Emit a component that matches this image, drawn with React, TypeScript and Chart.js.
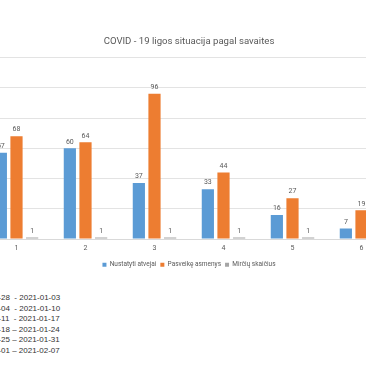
import React, { useEffect, useRef } from "react";
import { Chart, registerables } from "chart.js";

Chart.register(...registerables);

const categories = ["1", "2", "3", "4", "5", "6"];
const nustatyti = [57, 60, 37, 33, 16, 7];
const pasveike = [68, 64, 96, 44, 27, 19];
const mirtys = [1, 1, 1, 1, 1, 1];
const seriesNames = ["Nustatyti atvejai", "Pasveikę asmenys", "Mirčių skaičius"];
const titleText = "COVID - 19 ligos situacija pagal savaites";
const weekRanges = [
  "2020-12-28  - 2021-01-03",
  "2021-01-04  - 2021-01-10",
  "2021-01-11  - 2021-01-17",
  "2021-01-18 – 2021-01-24",
  "2021-01-25 – 2021-01-31",
  "2021-02-01 – 2021-02-07",
];

const FONT = "Roboto, 'Noto Sans', sans-serif";

const valueLabels = {
  id: "valueLabels",
  afterDatasetsDraw(chart: any) {
    const ctx = chart.ctx;
    ctx.save();
    ctx.font = `7px ${FONT}`;
    ctx.fillStyle = "#595959";
    ctx.textAlign = "center";
    ctx.textBaseline = "bottom";
    chart.data.datasets.forEach((ds: any, i: number) => {
      const meta = chart.getDatasetMeta(i);
      meta.data.forEach((bar: any, j: number) => {
        ctx.fillText(String(ds.data[j]), bar.x, bar.y - 3);
      });
    });
    ctx.restore();
  },
};

export default function App() {
  const ref = useRef<HTMLCanvasElement>(null);
  useEffect(() => {
    if (!ref.current) return;
    const chart = new Chart(ref.current, {
      type: "bar",
      data: {
        labels: categories,
        datasets: [
          { label: seriesNames[0], data: nustatyti, backgroundColor: "#5B9BD5" },
          { label: seriesNames[1], data: pasveike, backgroundColor: "#ED7D31" },
          { label: seriesNames[2], data: mirtys, backgroundColor: "#A5A5A5" },
        ],
      },
      options: {
        animation: false,
        responsive: false,
        maintainAspectRatio: false,
        layout: { padding: { top: 36, left: 22, right: 10, bottom: 4 } },
        datasets: { bar: { categoryPercentage: 0.68, barPercentage: 0.78 } },
        scales: {
          x: {
            grid: { display: false, drawTicks: false },
            border: { display: true, color: "#D9D9D9" },
            ticks: { color: "#595959", font: { size: 7, family: FONT }, padding: 5 },
          },
          y: {
            min: 0,
            max: 120,
            ticks: { display: false, stepSize: 20 },
            border: { display: false },
            grid: { color: "#E3E3E3", drawTicks: false },
          },
        },
        plugins: {
          title: {
            display: true,
            text: titleText,
            color: "#595959",
            font: { size: 9.6, family: FONT, weight: "normal" },
            padding: { top: 0, bottom: 10 },
          },
          legend: {
            position: "bottom",
            labels: {
              boxWidth: 4,
              boxHeight: 4,
              color: "#595959",
              font: { size: 6.5, family: FONT },
              padding: 4,
            },
          },
          tooltip: { enabled: false },
        },
      },
      plugins: [valueLabels],
    });
    return () => chart.destroy();
  }, []);

  return (
    <div
      style={{
        position: "fixed",
        left: 0,
        top: 0,
        width: 366,
        height: 366,
        overflow: "hidden",
        background: "#fff",
      }}
    >
      <canvas
        ref={ref}
        width={446}
        height={282}
        style={{ position: "absolute", left: -40, top: 0, width: 446, height: 282 }}
      />
      <div
        style={{
          position: "absolute",
          left: -31,
          top: 293,
          whiteSpace: "pre",
          textAlign: "left",
          fontFamily: "'Liberation Sans', Arial, sans-serif",
          fontSize: 8,
          lineHeight: "10.5px",
          color: "#333",
        }}
      >
        {weekRanges.map((w, i) => (
          <div key={i}>{w}</div>
        ))}
      </div>
    </div>
  );
}
